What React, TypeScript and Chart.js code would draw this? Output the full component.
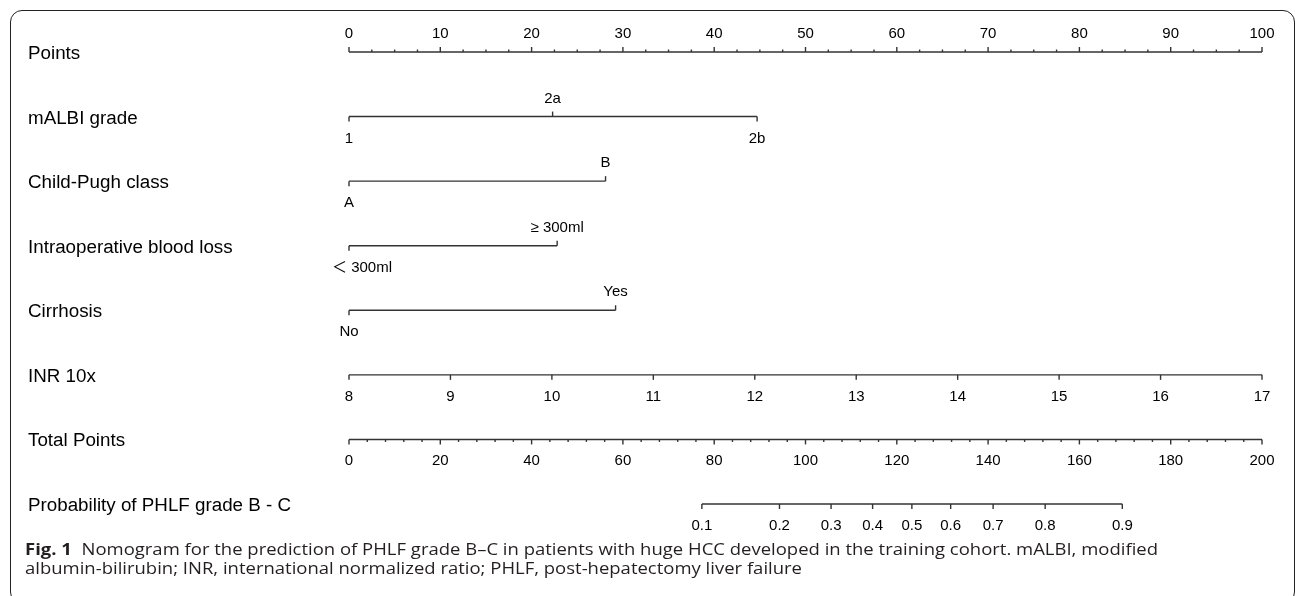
import React, { useEffect, useRef } from 'react';
import { Chart, registerables } from 'chart.js';

Chart.register(...registerables);

// ---- Data ----
const variableNames = [
  'Points',
  'mALBI grade',
  'Child-Pugh class',
  'Intraoperative blood loss',
  'Cirrhosis',
  'INR 10x',
  'Total Points',
  'Probability of PHLF grade B - C',
];

const pointsTickValues = [0, 10, 20, 30, 40, 50, 60, 70, 80, 90, 100];
const pointsTickLabels = ['0', '10', '20', '30', '40', '50', '60', '70', '80', '90', '100'];
const pointsMinorStep = 2.5;

const mALBILevels = ['1', '2a', '2b'];
const mALBIPoints = [0, 22.3, 44.7];

const childPughLevels = ['A', 'B'];
const childPughPoints = [0, 28.1];

const bloodLossLevels = ['\uFF1C 300ml', '\u2265 300ml'];
const bloodLossPoints = [0, 22.8];

const cirrhosisLevels = ['No', 'Yes'];
const cirrhosisPoints = [0, 29.2];

const inrValues = [8, 9, 10, 11, 12, 13, 14, 15, 16, 17];
const inrLabels = ['8', '9', '10', '11', '12', '13', '14', '15', '16', '17'];

const totalTickValues = [0, 20, 40, 60, 80, 100, 120, 140, 160, 180, 200];
const totalTickLabels = ['0', '20', '40', '60', '80', '100', '120', '140', '160', '180', '200'];
const totalMinorStep = 4;

const probLabels = ['0.1', '0.2', '0.3', '0.4', '0.5', '0.6', '0.7', '0.8', '0.9'];
const probTotalPoints = [77.3, 94.3, 105.6, 114.7, 123.3, 131.8, 141.1, 152.5, 169.4];

// ---- Styling constants ----
const LINE_COLOR = '#333333';
const LINE_WIDTH = 1.4;
const NAME_FONT = '18.8px "Liberation Sans", Arial, "Noto Sans CJK SC", sans-serif';
const TICK_FONT = '15px "Liberation Sans", Arial, "Noto Sans CJK SC", sans-serif';

type Tick = { value: number; label: string; dir: 'up' | 'down'; len: number; dx?: number };
type Row = { row: number; axisID: string; ticks: Tick[] };

function linearAxisTicks(values: number[], labels: string[], min: number, max: number, step: number, dir: 'up' | 'down'): Tick[] {
  const ticks: Tick[] = [];
  const n = Math.round((max - min) / step);
  for (let i = 0; i <= n; i++) {
    const v = min + i * step;
    const idx = values.findIndex((m) => Math.abs(m - v) < 1e-6);
    if (idx < 0) ticks.push({ value: v, label: '', dir, len: 2.5 });
  }
  values.forEach((v, i) => ticks.push({ value: v, label: labels[i], dir, len: 5 }));
  return ticks;
}

function categoricalTicks(values: number[], labels: string[], offsets: number[] = []): Tick[] {
  return values.map((v, i) => ({
    value: v,
    label: labels[i],
    dir: i % 2 === 0 ? 'down' : 'up',
    len: 5,
    dx: offsets[i] || 0,
  }));
}

const rows: Row[] = [
  { row: 0, axisID: 'x', ticks: linearAxisTicks(pointsTickValues, pointsTickLabels, 0, 100, pointsMinorStep, 'up') },
  { row: 1, axisID: 'x', ticks: categoricalTicks(mALBIPoints, mALBILevels) },
  { row: 2, axisID: 'x', ticks: categoricalTicks(childPughPoints, childPughLevels) },
  { row: 3, axisID: 'x', ticks: categoricalTicks(bloodLossPoints, bloodLossLevels, [13, 0]) },
  { row: 4, axisID: 'x', ticks: categoricalTicks(cirrhosisPoints, cirrhosisLevels) },
  { row: 5, axisID: 'xInr', ticks: inrValues.map((v, i) => ({ value: v, label: inrLabels[i], dir: 'down' as const, len: 5 })) },
  { row: 6, axisID: 'xTotal', ticks: linearAxisTicks(totalTickValues, totalTickLabels, 0, 200, totalMinorStep, 'down') },
  { row: 7, axisID: 'xTotal', ticks: probTotalPoints.map((v, i) => ({ value: v, label: probLabels[i], dir: 'down' as const, len: 5 })) },
];

function segment(values: number[], row: number) {
  return [
    { x: Math.min(...values), y: row },
    { x: Math.max(...values), y: row },
  ];
}

const nomogramPlugin = {
  id: 'nomogramPlugin',
  afterDatasetsDraw(chart: any) {
    const ctx = chart.ctx as CanvasRenderingContext2D;
    const yS = chart.scales.y;
    ctx.save();
    ctx.fillStyle = '#000';
    ctx.font = NAME_FONT;
    ctx.textAlign = 'left';
    ctx.textBaseline = 'alphabetic';
    variableNames.forEach((name, i) => {
      ctx.fillText(name, 28, yS.getPixelForValue(i) + 7);
    });

    ctx.strokeStyle = LINE_COLOR;
    ctx.lineWidth = LINE_WIDTH;
    ctx.font = TICK_FONT;
    rows.forEach((r) => {
      const xs = chart.scales[r.axisID];
      const y = yS.getPixelForValue(r.row);
      r.ticks.forEach((t) => {
        const x = xs.getPixelForValue(t.value);
        const s = t.dir === 'up' ? -1 : 1;
        ctx.beginPath();
        ctx.moveTo(x, y);
        ctx.lineTo(x, y + s * t.len);
        ctx.stroke();
        if (t.label) {
          ctx.textAlign = 'center';
          ctx.fillText(t.label, x + (t.dx || 0), t.dir === 'up' ? y - 14 : y + 26);
        }
      });
    });
    ctx.restore();
  },
};

export default function App() {
  const canvasRef = useRef<HTMLCanvasElement>(null);
  const capRef = useRef<HTMLDivElement>(null);
  const line1Ref = useRef<HTMLSpanElement>(null);

  useEffect(() => {
    const lineDs = (data: { x: number; y: number }[], xAxisID: string) => ({
      data,
      xAxisID,
      yAxisID: 'y',
      borderColor: LINE_COLOR,
      borderWidth: LINE_WIDTH,
      pointRadius: 0,
      fill: false,
      clip: false as any,
    });
    const chart = new Chart(canvasRef.current!, {
      type: 'line',
      data: {
        datasets: [
          lineDs(segment(pointsTickValues, 0), 'x'),
          lineDs(segment(mALBIPoints, 1), 'x'),
          lineDs(segment(childPughPoints, 2), 'x'),
          lineDs(segment(bloodLossPoints, 3), 'x'),
          lineDs(segment(cirrhosisPoints, 4), 'x'),
          lineDs(segment(inrValues, 5), 'xInr'),
          lineDs(segment(totalTickValues, 6), 'xTotal'),
          lineDs(segment(probTotalPoints, 7), 'xTotal'),
        ] as any,
      },
      options: {
        animation: false,
        responsive: false,
        devicePixelRatio: 1,
        layout: { padding: { left: 349, right: 33, top: 52, bottom: 36 } },
        plugins: { legend: { display: false }, tooltip: { enabled: false } },
        events: [],
        scales: {
          x: { type: 'linear', min: 0, max: 100, display: false },
          xInr: { type: 'linear', min: 8, max: 17, display: false },
          xTotal: { type: 'linear', min: 0, max: 200, display: false },
          y: { type: 'linear', min: 0, max: 7, reverse: true, display: false },
        },
      },
      plugins: [nomogramPlugin],
    });

    // fit caption width to reference
    if (capRef.current && line1Ref.current) {
      const w = line1Ref.current.getBoundingClientRect().width;
      if (w > 0) capRef.current.style.transform = `scaleX(${1133 / w})`;
    }
    return () => chart.destroy();
  }, []);

  return (
    <div style={{ position: 'absolute', left: 0, top: 0, width: 1295, height: 596, overflow: 'hidden', background: '#fff' }}>
      <div
        style={{
          position: 'absolute',
          left: 10,
          top: 10,
          width: 1285,
          height: 594,
          border: '1px solid #222',
          borderRadius: 12,
          boxSizing: 'border-box',
        }}
      />
      <canvas ref={canvasRef} width={1295} height={540} style={{ position: 'absolute', left: 0, top: 0 }} />
      <div
        ref={capRef}
        style={{
          position: 'absolute',
          left: 25,
          top: 540,
          fontFamily: '"Open Sans", "Noto Sans", sans-serif',
          fontSize: 15.8,
          lineHeight: '19px',
          color: '#231f20',
          whiteSpace: 'nowrap',
          transformOrigin: '0 0',
        }}
      >
        <div>
          <span ref={line1Ref}>
            <b>Fig. 1</b>&nbsp;&nbsp;Nomogram for the prediction of PHLF grade B–C in patients with huge HCC developed in the training cohort. mALBI, modified
          </span>
        </div>
        <div>albumin-bilirubin; INR, international normalized ratio; PHLF, post-hepatectomy liver failure</div>
      </div>
    </div>
  );
}
